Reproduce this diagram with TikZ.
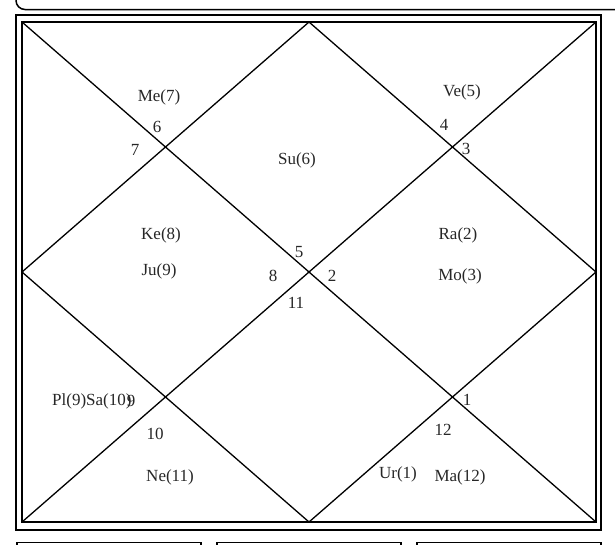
\documentclass[tikz,border=0pt]{standalone}
\usepackage{fontspec}
\setmainfont{Liberation Serif}
\begin{document}
\begin{tikzpicture}[x=1pt,y=-1pt,
  lbl/.style={font=\fontsize{17}{20}\selectfont, inner sep=0pt, text=black!85},
  frameline/.style={line width=1.5pt},
  diagline/.style={line width=1.3pt}]
\useasboundingbox (0,0) rectangle (615,544);
% top partial box
\draw[frameline, rounded corners=9pt] (16,-20) -- (16,9.5) -- (650,9.5);
% outer and inner frames
\draw[frameline] (16,15) rectangle (601,530);
\coordinate (tl) at (22,22);
\coordinate (tr) at (596,22);
\coordinate (br) at (596,522);
\coordinate (bl) at (22,522);
\coordinate (tm) at (309,22);
\coordinate (rm) at (596,272);
\coordinate (bm) at (309,522);
\coordinate (lm) at (22,272);
\draw[frameline] (tl) -- (tr) -- (br) -- (bl) -- cycle;
\draw[diagline] (tl) -- (br);
\draw[diagline] (tr) -- (bl);
\draw[diagline] (tm) -- (rm) -- (bm) -- (lm) -- cycle;
% bottom partial boxes
\draw[frameline] (17,560) -- (17,542.5) -- (201,542.5) -- (201,560);
\draw[frameline] (217,560) -- (217,542.5) -- (401,542.5) -- (401,560);
\draw[frameline] (417,560) -- (417,542.5) -- (601,542.5) -- (601,560);
% labels
\node[lbl] (me) at (159,97) {Me(7)};
\node[lbl] (h6) at (157,127) {6};
\node[lbl] (h7) at (135,150) {7};
\node[lbl] (su) at (297,160) {Su(6)};
\node[lbl] (ve) at (462,92) {Ve(5)};
\node[lbl] (h4) at (444,125) {4};
\node[lbl] (h3) at (466,149) {3};
\node[lbl] (ke) at (161,235) {Ke(8)};
\node[lbl] (ju) at (159,271) {Ju(9)};
\node[lbl] (h5) at (299,252) {5};
\node[lbl] (h8) at (273,276) {8};
\node[lbl] (h2) at (332,276) {2};
\node[lbl] (h11) at (296,303) {11};
\node[lbl] (ra) at (458,235) {Ra(2)};
\node[lbl] (mo) at (460,276) {Mo(3)};
\node[lbl, anchor=west] (plsa) at (52,401) {Pl(9)Sa(10)};
\node[lbl] (h9) at (131,401) {9};
\node[lbl] (h10) at (155,434) {10};
\node[lbl] (ne) at (170,477) {Ne(11)};
\node[lbl] (h1) at (467,400) {1};
\node[lbl] (h12) at (443,430) {12};
\node[lbl] (ur) at (398,474) {Ur(1)};
\node[lbl] (ma) at (460,477) {Ma(12)};
\end{tikzpicture}
\end{document}
